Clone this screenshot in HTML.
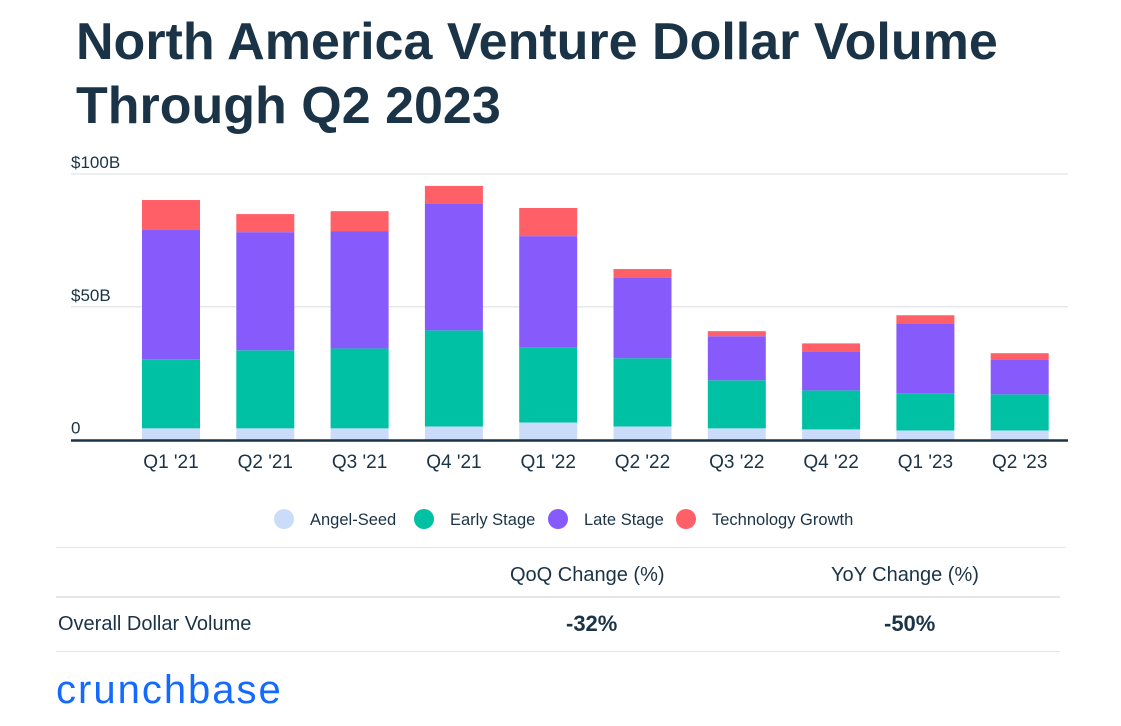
<!DOCTYPE html>
<html><head><meta charset="utf-8"><style>
body{margin:0;width:1121px;height:726px;background:#fff;font-family:"Liberation Sans",sans-serif;color:#1a3346;overflow:hidden;position:relative}
h1{position:absolute;left:76px;top:10px;margin:0;font-size:52px;line-height:64px;font-weight:bold;color:#1a3346;letter-spacing:0px}
svg{position:absolute;left:0;top:0}
.t{position:absolute;font-size:20px}
</style></head><body>
<h1>North America Venture Dollar Volume<br>Through Q2 2023</h1>
<svg id="chart" width="1121" height="726"></svg>
<div>
<div style="position:absolute;left:56px;top:547px;width:1010px;height:1px;background:#e3e7ea"></div>
<div class="t" style="left:510px;top:564px">QoQ Change (%)</div>
<div class="t" style="left:831px;top:564px">YoY Change (%)</div>
<div style="position:absolute;left:56px;top:596px;width:1004px;height:2px;background:#e3e7ea"></div>
<div class="t" style="left:58px;top:613px">Overall Dollar Volume</div>
<div class="t" style="left:566px;top:611px;font-weight:bold;font-size:22px">-32%</div>
<div class="t" style="left:884px;top:611px;font-weight:bold;font-size:22px">-50%</div>
<div style="position:absolute;left:56px;top:651px;width:1004px;height:1px;background:#e3e7ea"></div>
</div>
<div style="position:absolute;left:56px;top:668px;font-size:40px;color:#146aff;letter-spacing:2px">crunchbase</div>
<script>
const categories=["Q1 '21","Q2 '21","Q3 '21","Q4 '21","Q1 '22","Q2 '22","Q3 '22","Q4 '22","Q1 '23","Q2 '23"];
const angelSeed=[4.2,4.2,4.2,4.9,6.4,4.9,4.2,3.8,3.4,3.4];
const earlyStage=[26.0,29.4,30.1,36.2,28.3,25.7,18.1,14.7,14.0,13.6];
const lateStage=[48.7,44.5,44.2,47.9,41.9,30.5,16.6,14.7,26.4,13.2];
const techGrowth=[11.3,6.8,7.5,6.5,10.6,3.1,1.9,3.0,3.0,2.3];
const yTicks=[0,50,100];
const yTickLabels=["0","$50B","$100B"];
const seriesNames=["Angel-Seed","Early Stage","Late Stage","Technology Growth"];
const colors=["#cbdcfb","#00c1a3","#875bfb","#ff5f67"];
const svg=document.getElementById('chart');const NS="http://www.w3.org/2000/svg";
const y0=439.5,pxPer=2.655,x0=171,step=94.3,bw=58;
const yS=v=>y0-v*pxPer, xS=i=>x0+i*step;
function mk(t,a){const e=document.createElementNS(NS,t);for(const k in a)e.setAttribute(k,a[k]);svg.appendChild(e);return e;}
yTicks.forEach((v,i)=>{
 if(v>0){const g=mk('line',{x1:71,x2:1068,y1:yS(v),y2:yS(v),stroke:'#e6e9ec','stroke-width':1.5});
 
 }
 const t=mk('text',{x:71,y:yS(v)-6,'font-size':17,fill:'#1a3346','font-family':'Liberation Sans'});t.textContent=yTickLabels[i];
 
 
});
const series=[angelSeed,earlyStage,lateStage,techGrowth];
categories.forEach((c,i)=>{
 let acc=0;
 series.forEach((s,k)=>{const r=mk('rect',{x:xS(i)-bw/2,y:yS(acc+s[i]),width:bw,height:s[i]*pxPer,fill:colors[k]});
 
 
 acc+=s[i];});
 const t=mk('text',{x:xS(i),y:468,'font-size':19,fill:'#1a3346','text-anchor':'middle','font-family':'Liberation Sans'});t.textContent=c;
 
 
});
const base=mk('line',{x1:71,x2:1068,y1:y0+1,y2:y0+1,stroke:'#1a3346','stroke-width':2.5});


const lx=[284,424,558,686];
seriesNames.forEach((n,k)=>{
 const c=mk('circle',{cx:lx[k],cy:519,r:10,fill:colors[k]});
 
 
 const t=mk('text',{x:lx[k]+26,y:525,'font-size':16.5,fill:'#1a3346','font-family':'Liberation Sans'});t.textContent=n;
 
 
});
</script>
</body></html>
